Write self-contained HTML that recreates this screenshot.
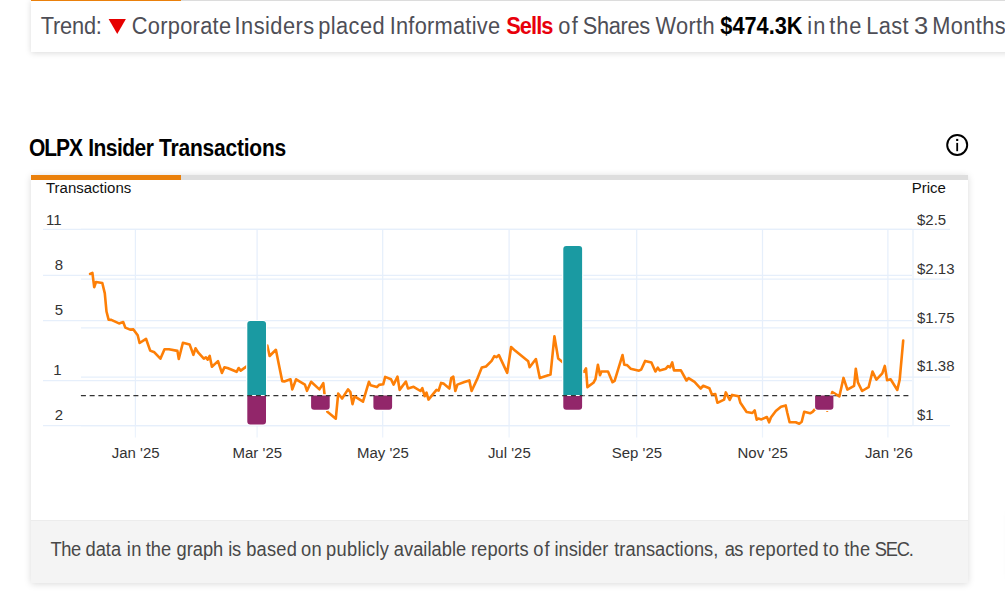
<!DOCTYPE html>
<html><head><meta charset="utf-8">
<style>
html,body{margin:0;padding:0;background:#fff;}
body{width:1005px;height:612px;position:relative;overflow:hidden;font-family:"Liberation Sans",sans-serif;}
.abs{position:absolute;white-space:nowrap;}
#trend{left:31px;top:0;width:1100px;height:52px;background:#fff;box-shadow:0 1px 6px rgba(0,0,0,0.15);border-top:1px solid #dcdcdc;box-sizing:border-box;}
#trend .o{position:absolute;left:0;top:-1px;width:150px;height:1px;background:#ea800b;}
.tw{position:absolute;top:14px;font-size:21.8px;line-height:26px;color:#4e4e56;white-space:nowrap;transform-origin:0 20.55px;transform:scaleY(1.075);}
.b{font-weight:bold;}
#title{left:30px;top:136.4px;font-size:21px;line-height:26px;font-weight:bold;color:#000;transform-origin:0 20.14px;transform:scaleY(1.14);}
#card{left:30.8px;top:175px;width:937.2px;height:407.5px;background:#fff;box-shadow:0 1px 7px rgba(0,0,0,0.15);}
#card .bar{position:absolute;left:0;top:0;width:937.2px;height:5px;background:#dedede;}
#card .obar{position:absolute;left:0;top:0;width:150px;height:5px;background:#ea800b;}
#card .foot{position:absolute;left:0;top:345px;width:937.2px;height:62.5px;background:#f4f4f4;border-top:1px solid #ececec;box-sizing:border-box;}
#note{left:51px;top:539.2px;font-size:18.3px;line-height:22px;color:#484848;transform-origin:0 17.4px;transform:scaleY(1.07);}
svg text{font-family:"Liberation Sans",sans-serif;}
</style></head><body>
<div id="trend" class="abs"><div class="o"></div></div>
<span class="tw" style="left:40.79px;letter-spacing:-0.221px">Trend:</span>
<svg class="abs" style="left:108px;top:18px" width="20" height="17"><path d="M0.6,0.9 L17.9,0.9 L9.25,15.9 Z" fill="#e60000"/></svg>
<span class="tw" style="left:131.68px;letter-spacing:0.308px">Corporate</span>
<span class="tw" style="left:234.55px;letter-spacing:0.472px">Insiders</span>
<span class="tw" style="left:318.13px;letter-spacing:0.464px">placed</span>
<span class="tw" style="left:389.65px;letter-spacing:0.259px">Informative</span>
<span class="tw b" style="left:506.14px;letter-spacing:-0.886px;color:#e8000b">Sells</span>
<span class="tw" style="left:558.18px;letter-spacing:1.471px">of</span>
<span class="tw" style="left:582.73px;letter-spacing:-0.311px">Shares</span>
<span class="tw" style="left:655.38px;letter-spacing:0.374px">Worth</span>
<span class="tw b" style="left:720.29px;letter-spacing:-0.022px;color:#000">$474.3K</span>
<span class="tw" style="left:807.3px;letter-spacing:1.165px">in</span>
<span class="tw" style="left:829.32px;letter-spacing:0.867px">the</span>
<span class="tw" style="left:866.24px;letter-spacing:0.383px">Last</span>
<span class="tw" style="left:913.9px;transform:scale(1.17,1.075)">3</span>
<span class="tw" style="left:932.24px;letter-spacing:0.404px">Months</span>

<div id="title" class="abs"><span style="position:absolute;left:-1.03px;letter-spacing:-1.014px">OLPX</span><span style="position:absolute;left:58.25px;letter-spacing:-0.537px">Insider</span><span style="position:absolute;left:129.0px;letter-spacing:-0.21px">Transactions</span></div>
<svg class="abs" style="left:944px;top:132px" width="26" height="26"><circle cx="13.2" cy="12.9" r="10" fill="none" stroke="#000" stroke-width="1.95"/><rect x="12.3" y="10.9" width="1.8" height="8.3" fill="#000"/><rect x="12.15" y="6.9" width="2.1" height="2.1" fill="#000"/></svg>

<div id="card" class="abs"><div class="bar"></div><div class="obar"></div><div class="foot"></div></div>
<div class="abs" style="left:1010px;top:512px;width:40px;height:64px;background:#fff;box-shadow:0 1px 7px rgba(0,0,0,0.15);"></div>
<div id="note" class="abs"><span style="position:absolute;left:-0.45px;letter-spacing:-0.448px">The</span><span style="position:absolute;left:34.53px;letter-spacing:0.001px">data</span><span style="position:absolute;left:75.71px;letter-spacing:0.376px">in</span><span style="position:absolute;left:94.65px;letter-spacing:0.051px">the</span><span style="position:absolute;left:125.53px;letter-spacing:-0.002px">graph</span><span style="position:absolute;left:177.31px;letter-spacing:-0.247px">is</span><span style="position:absolute;left:195.21px;letter-spacing:0.209px">based</span><span style="position:absolute;left:250.03px;letter-spacing:0.235px">on</span><span style="position:absolute;left:275.11px;letter-spacing:0.266px">publicly</span><span style="position:absolute;left:342.81px;letter-spacing:0.021px">available</span><span style="position:absolute;left:419.9px;letter-spacing:0.146px">reports</span><span style="position:absolute;left:482.23px;letter-spacing:1.218px">of</span><span style="position:absolute;left:503.51px;letter-spacing:-0.003px">insider</span><span style="position:absolute;left:563.25px;letter-spacing:0.038px">transactions,</span><span style="position:absolute;left:673.71px;letter-spacing:-0.557px">as</span><span style="position:absolute;left:697.8px;letter-spacing:0.241px">reported</span><span style="position:absolute;left:771.95px;letter-spacing:0.671px">to</span><span style="position:absolute;left:793.35px;letter-spacing:0.151px">the</span><span style="position:absolute;left:823.71px;letter-spacing:-1.197px">SEC.</span></div>

<svg class="abs" style="left:0;top:0" width="1005" height="612" viewBox="0 0 1005 612">
<g stroke="#e6effb" stroke-width="1.25" fill="none">
<!-- vertical grid -->
<path d="M135.4,229 V426 M257.1,229 V426 M382.7,229 V426 M509.1,229 V426 M636.7,229 V426 M762.5,229 V426 M887.9,229 V426"/>
<path stroke="#ecf3fc" d="M135.4,426 V437.6 M257.1,426 V437.6 M382.7,426 V437.6 M509.1,426 V437.6 M636.7,426 V437.6 M762.5,426 V437.6 M887.9,426 V437.6"/>
<path d="M913,229 V426"/>
<!-- left axis grid -->
<path d="M43,229.3 H912 M43,275.4 H912 M43,320.5 H912 M43,380.5 H912 M43,425.7 H912"/>
<!-- right axis grid -->
<path d="M81,229.3 H950 M81,279.2 H950 M81,327.8 H950 M81,377 H950 M81,425.7 H950"/>
</g>
<defs><clipPath id="bc"><rect x="246.10000000000002" y="390" width="21.099999999999987" height="10"/><rect x="309.90000000000003" y="390" width="20.999999999999964" height="10"/><rect x="372.2" y="390" width="21.100000000000044" height="10"/><rect x="562.0999999999999" y="390" width="21.200000000000067" height="10"/><rect x="813.9" y="390" width="20.699999999999953" height="10"/></clipPath></defs>
<path id="dl" d="M80.9,395.5 H909" stroke="#333" stroke-width="1.25" stroke-dasharray="5 3.75" fill="none"/>
<polyline points="90.1,273.9 92.4,272.8 94.2,287.2 96,282 102.3,283 104.8,293.4 106.5,311.5 108.6,319.6 111.3,319.9 119,323.4 123.2,322 125.3,327.6 130.1,329.6 133.4,329.4 137.7,335.3 139.6,343 146,338.8 150.2,350.6 154.4,352.3 160.4,358.7 164.5,349.3 169,349.3 177.4,350.9 178.8,359 182.9,342.7 189.6,344.4 193.4,354.8 195.5,348.3 198.3,352.7 203.8,358.7 205.9,357.3 207.7,359.7 209.7,355.9 211.9,366.7 218,361.1 221.9,372.9 224.4,367.4 227.5,368 236.6,371.8 238.7,368 240.7,370.6 245.6,367.1 256,360 267.3,345.6 269.6,356 275.9,349.8 278.7,363.7 282.2,381.1 284.3,381.5 290.5,379.3 292.3,389.4 296.1,379.3 304.9,384.6 307,390.8 311.1,381.8 319.4,389.4 323.3,383.2 324.6,395 327.4,411.7 335.8,418.7 338.2,393.6 342.1,398.5 348,389.4 350.4,392.2 352.5,404.1 354.6,396.4 363,401.7 368.9,381.8 370.6,385.3 376.9,387.1 379,384.9 383.2,384.3 385.2,376.9 391,379.2 393.6,384.6 397.5,376.7 399.6,389.9 405.9,381.5 408,388.5 413.6,386.8 420.5,391 422.3,388.2 424.7,396.2 426.5,392.7 428.5,399.6 436.5,389.9 438.6,390.6 441.1,382.9 443.5,383.6 449.4,388.5 451.2,378.1 453.3,376.7 455.3,391 457.4,384.6 464.4,382 469.3,380.4 471.6,391 477.6,378.1 481.8,367.6 486,366.5 491.6,360.9 494.3,356.2 496.4,357.2 498.9,355.1 507.2,372.9 511.1,347 515,350.6 528.2,361.3 529.6,367.3 535.9,359 539.8,378.1 550.5,374.6 554.4,336.3 558.2,358.6 562.4,362 573,367 584,371.8 586,368.3 587.4,387.1 593.4,382.8 595.5,379 597.9,364.8 600,375.3 601.4,371.5 608,371.5 612.5,382.2 614.6,380.8 622.5,355.1 624.3,364.8 627.1,365.1 630.6,368.7 639,370.7 641.1,369.7 645.2,360.9 651.4,362.5 655.4,371.5 657.8,367.6 659.6,370.4 665.9,368.7 668,366.2 670.1,367.3 672.2,362.4 674,370.4 680.9,370.4 686.5,380.5 688.6,378.2 694.5,381.9 700.7,388.6 703.2,385.7 709.4,388.2 711.9,394.5 715.3,394 717.4,402.8 724.1,399.6 725.8,392.4 729.7,400 732.1,394.9 738.6,396.3 740.4,402.8 746.6,412 752.4,413 754.7,410.4 756.7,419.7 758.4,418.6 761.4,419.4 766.9,417 769.1,422.3 770.9,417.5 775.8,411 781,406.7 785.7,405.4 787.3,412.8 789.6,422.3 795.7,422.3 799.2,423.8 801.7,421.8 804.2,411.8 810.1,413.3 812.6,411.8 814.7,409.5 824.5,405 827.2,410.6 829.2,403 832.3,392 839.4,396.3 843.5,377.9 847.4,389.6 854.1,385.8 855.8,368.7 857.9,382.4 862.1,391 868.6,387.2 872.5,371.5 876.4,379.6 882.3,373.3 884.8,365.9 887.1,380.3 890.6,379.3 897.3,390 899.7,379.6 903.2,340.6" fill="none" stroke="#fd7f07" stroke-width="2.6" stroke-linejoin="round" stroke-linecap="round"/>
<g stroke="#fff" stroke-width="2.4" fill="#fff">
<path d="M247.3,395.5 V324.1 a3,3 0 0 1 3,-3 H263.0 a3,3 0 0 1 3,3 V395.5 Z"/>
<path d="M247.3,395.5 V421.4 a3,3 0 0 0 3,3 H263.0 a3,3 0 0 0 3,-3 V395.5 Z"/>
<path d="M311.1,395.5 V406.7 a3,3 0 0 0 3,3 H326.7 a3,3 0 0 0 3,-3 V395.5 Z"/>
<path d="M373.4,395.5 V406.7 a3,3 0 0 0 3,3 H389.1 a3,3 0 0 0 3,-3 V395.5 Z"/>
<path d="M563.3,395.5 V248.9 a3,3 0 0 1 3,-3 H579.1 a3,3 0 0 1 3,3 V395.5 Z"/>
<path d="M563.3,395.5 V406.7 a3,3 0 0 0 3,3 H579.1 a3,3 0 0 0 3,-3 V395.5 Z"/>
<path d="M815.1,395.5 V406.7 a3,3 0 0 0 3,3 H830.4 a3,3 0 0 0 3,-3 V395.5 Z"/>
</g>
<g>
<path d="M247.3,395.5 V324.1 a3,3 0 0 1 3,-3 H263.0 a3,3 0 0 1 3,3 V395.5 Z" fill="#1a9aa2"/>
<path d="M247.3,395.5 V421.4 a3,3 0 0 0 3,3 H263.0 a3,3 0 0 0 3,-3 V395.5 Z" fill="#92266a"/>
<path d="M311.1,395.5 V406.7 a3,3 0 0 0 3,3 H326.7 a3,3 0 0 0 3,-3 V395.5 Z" fill="#92266a"/>
<path d="M373.4,395.5 V406.7 a3,3 0 0 0 3,3 H389.1 a3,3 0 0 0 3,-3 V395.5 Z" fill="#92266a"/>
<path d="M563.3,395.5 V248.9 a3,3 0 0 1 3,-3 H579.1 a3,3 0 0 1 3,3 V395.5 Z" fill="#1a9aa2"/>
<path d="M563.3,395.5 V406.7 a3,3 0 0 0 3,3 H579.1 a3,3 0 0 0 3,-3 V395.5 Z" fill="#92266a"/>
<path d="M815.1,395.5 V406.7 a3,3 0 0 0 3,3 H830.4 a3,3 0 0 0 3,-3 V395.5 Z" fill="#92266a"/>
</g>
<path d="M247.3,395.5 H266 M563.3,395.5 H582.1" stroke="#fff" stroke-width="1.1"/>
<path d="M80.9,395.5 H909" stroke="#333" stroke-width="1.25" stroke-dasharray="5 3.75" fill="none" clip-path="url(#bc)"/>
<g font-size="15" fill="#333">
<text transform="translate(46,193) scale(1,1.035)" fill="#111">Transactions</text>
<text transform="translate(911.8,193) scale(1,1.035)" fill="#111">Price</text>
<text transform="translate(61.5,225) scale(1,1.035)" text-anchor="end">11</text>
<text transform="translate(63.2,270.2) scale(1,1.035)" text-anchor="end">8</text>
<text transform="translate(63.2,315.2) scale(1,1.035)" text-anchor="end">5</text>
<text transform="translate(61.5,375) scale(1,1.035)" text-anchor="end">1</text>
<text transform="translate(63.2,420) scale(1,1.035)" text-anchor="end">2</text>
<text transform="translate(917,224.8) scale(1,1.035)">$2.5</text>
<text transform="translate(917,273.8) scale(1,1.035)">$2.13</text>
<text transform="translate(917,322.8) scale(1,1.035)">$1.75</text>
<text transform="translate(917,371) scale(1,1.035)">$1.38</text>
<text transform="translate(917,420) scale(1,1.035)">$1</text>
<text transform="translate(135.7,458) scale(1,1.035)" text-anchor="middle">Jan '25</text>
<text transform="translate(257.3,458) scale(1,1.035)" text-anchor="middle">Mar '25</text>
<text transform="translate(382.9,458) scale(1,1.035)" text-anchor="middle">May '25</text>
<text transform="translate(509.3,458) scale(1,1.035)" text-anchor="middle">Jul '25</text>
<text transform="translate(636.9,458) scale(1,1.035)" text-anchor="middle">Sep '25</text>
<text transform="translate(762.7,458) scale(1,1.035)" text-anchor="middle">Nov '25</text>
<text transform="translate(888.8,458) scale(1,1.035)" text-anchor="middle">Jan '26</text>
</g>
</svg>
</body></html>
